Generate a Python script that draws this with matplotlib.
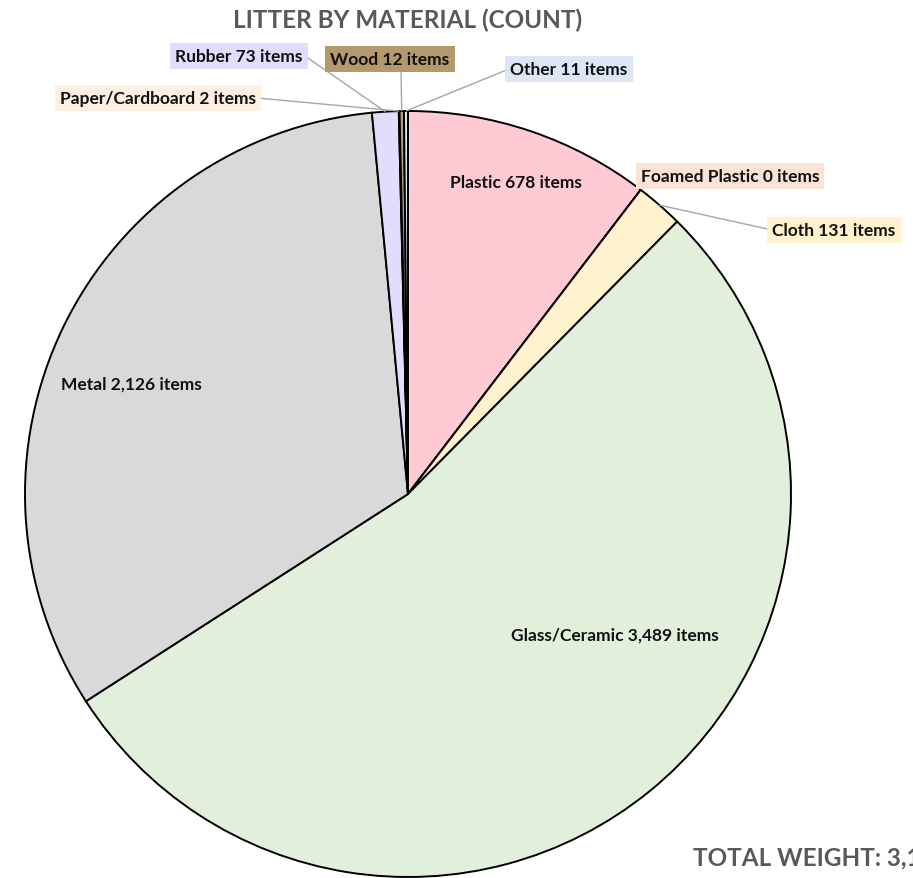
import numpy as np
import matplotlib.pyplot as plt

# clockwise from 12 o'clock
materials = ['Plastic', 'Foamed Plastic', 'Cloth', 'Glass/Ceramic', 'Metal',
             'Rubber', 'Paper/Cardboard', 'Wood', 'Other']
counts = [678, 0, 131, 3489, 2126, 73, 2, 12, 11]
slice_colors = ['#FFCAD4', '#F8CBAD', '#FFF2CC', '#E2EFDA', '#D9D9D9',
                '#E3DCFC', '#FCE4D6', '#B89E74', '#DAE3F3']
box_colors = ['none', '#FBE3D6', '#FFF2CC', 'none', 'none',
              '#E3DCFC', '#FDF0E3', '#B5996E', '#DCE6F4']

title = 'LITTER BY MATERIAL (COUNT)'
footer = 'TOTAL WEIGHT: 3,1'

W, H = 913, 879


def px(x, y):
    """pixel coords (top-left origin) -> data coords"""
    return x, H - y


fig = plt.figure(figsize=(W / 100, H / 100), dpi=100)
ax = fig.add_axes([0, 0, 1, 1])
ax.set_aspect('equal')

center = px(408, 495)
radius = 383
wedges, _ = ax.pie(counts, colors=slice_colors, startangle=90, counterclock=False,
                   center=center, radius=radius, frame=True,
                   wedgeprops=dict(edgecolor='black', linewidth=1.4))
ax.set_xlim(0, W)
ax.set_ylim(0, H)
ax.axis('off')

font = dict(family=['Lato', 'DejaVu Sans'], fontweight='bold', fontsize=12.5,
            color='#111111')


def label_text(i):
    return f'{materials[i]} {counts[i]:,} items'


# label centre (pixel) and leader-line start (pixel) or None
label_layout = {
    0: ((516, 183), None),
    1: ((730, 177), None),
    2: ((834, 231), (772, 231)),
    3: ((615, 636), None),
    4: ((131, 385), None),
    5: ((239, 57), (305, 57)),
    6: ((158, 99), (257, 99)),
    7: ((390, 60), (401, 73)),
    8: ((569, 70), (509, 70)),
}

for i, w in enumerate(wedges):
    (lx, ly), start = label_layout[i]
    mid = np.deg2rad((w.theta1 + w.theta2) / 2)
    ex = center[0] + radius * np.cos(mid)
    ey = center[1] + radius * np.sin(mid)
    if start is not None:
        sx, sy = px(*start)
        ax.plot([sx, ex], [sy, ey], color='#a6a6a6', lw=1.0, zorder=1,
                solid_capstyle='butt')
    bbox = None
    if box_colors[i] != 'none':
        bbox = dict(boxstyle='square,pad=0.3', facecolor=box_colors[i],
                    edgecolor='none')
    ax.text(*px(lx, ly), label_text(i), ha='center', va='center', bbox=bbox,
            zorder=5, **font)

ax.text(*px(408, 20), title, ha='center', va='center', fontsize=17.5,
        fontweight='bold', color='#595959', family=['Lato', 'DejaVu Sans'])
ax.text(*px(693, 858), footer, ha='left', va='center', fontsize=17.5,
        fontweight='bold', color='#595959', family=['Lato', 'DejaVu Sans'])

fig.savefig('out.png', dpi=100, facecolor='white')
